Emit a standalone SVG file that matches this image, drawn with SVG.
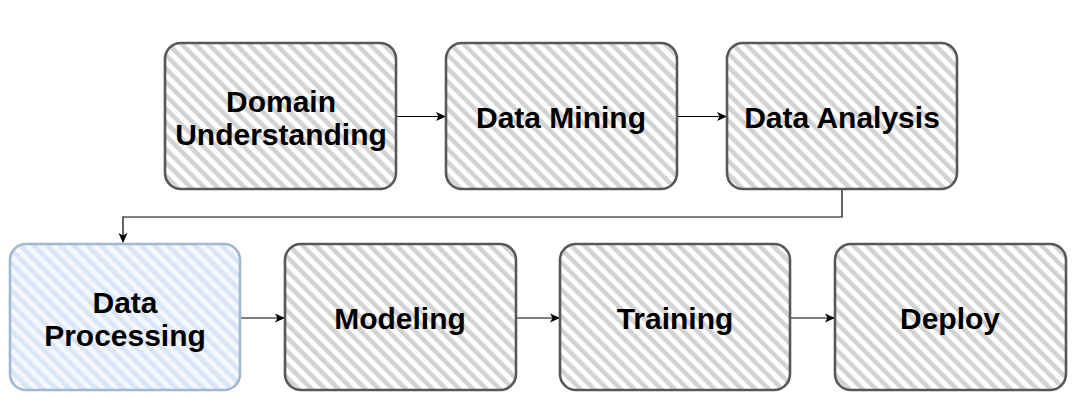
<svg xmlns="http://www.w3.org/2000/svg" width="1079" height="411" viewBox="0 0 1079 411">
  <defs>
    <pattern id="hatchGrey" patternUnits="userSpaceOnUse" width="9.5" height="9.5" patternTransform="rotate(-45)">
      <rect x="0" y="0" width="9.5" height="9.5" fill="#ffffff"/>
      <rect x="0" y="0" width="4.6" height="9.5" fill="#d3d3d3"/>
    </pattern>
    <pattern id="hatchBlue" patternUnits="userSpaceOnUse" width="9.5" height="9.5" patternTransform="rotate(-45)">
      <rect x="0" y="0" width="9.5" height="9.5" fill="#f4f7fd"/>
      <rect x="0" y="0" width="4.6" height="9.5" fill="#dae6f7"/>
    </pattern>
    <marker id="arrow" viewBox="0 0 10 10" refX="9" refY="5" markerWidth="10" markerHeight="10" markerUnits="userSpaceOnUse" orient="auto">
      <path d="M0,0.5 L10,5 L0,9.5 L2.5,5 Z" fill="#000000"/>
    </marker>
  </defs>
  <style>
    .box { fill: url(#hatchGrey); stroke: #585858; stroke-width: 2.6; }
    .box-blue { fill: url(#hatchBlue); stroke: #a3b6d2; stroke-width: 2.6; }
    .label { font-family: "Liberation Sans", Arial, Helvetica, sans-serif; font-weight: bold; font-size: 30px; fill: #000000; text-anchor: middle; }
    .conn { fill: none; stroke: #000000; stroke-width: 1.2; marker-end: url(#arrow); }
  </style>
  <rect width="1079" height="411" fill="#ffffff"/>

  <g id="connectors">
    <path class="conn" d="M397,116.5 L445,116.5"/>
    <path class="conn" d="M677,116.5 L726,116.5"/>
    <path class="conn" d="M842,190 L842,217 L123,217 L123,242"/>
    <path class="conn" d="M240,318 L284,318"/>
    <path class="conn" d="M516,318 L559,318"/>
    <path class="conn" d="M790,318 L834,318"/>
  </g>

  <g id="node-domain-understanding">
    <rect class="box" x="165" y="43" width="231" height="146" rx="16" ry="16"/>
    <text class="label" x="281" y="112">Domain</text>
    <text class="label" x="281" y="145">Understanding</text>
  </g>
  <g id="node-data-mining">
    <rect class="box" x="446" y="43" width="231" height="146" rx="16" ry="16"/>
    <text class="label" x="561" y="128">Data Mining</text>
  </g>
  <g id="node-data-analysis">
    <rect class="box" x="727" y="43" width="230" height="146" rx="16" ry="16"/>
    <text class="label" x="842" y="128">Data Analysis</text>
  </g>
  <g id="node-data-processing">
    <rect class="box-blue" x="10" y="244" width="230" height="146" rx="16" ry="16"/>
    <text class="label" x="125" y="313">Data</text>
    <text class="label" x="125" y="346">Processing</text>
  </g>
  <g id="node-modeling">
    <rect class="box" x="285" y="244" width="231" height="146" rx="16" ry="16"/>
    <text class="label" x="400" y="329">Modeling</text>
  </g>
  <g id="node-training">
    <rect class="box" x="560" y="244" width="230" height="146" rx="16" ry="16"/>
    <text class="label" x="675" y="329">Training</text>
  </g>
  <g id="node-deploy">
    <rect class="box" x="835" y="244" width="231" height="146" rx="16" ry="16"/>
    <text class="label" x="950" y="329">Deploy</text>
  </g>
</svg>
